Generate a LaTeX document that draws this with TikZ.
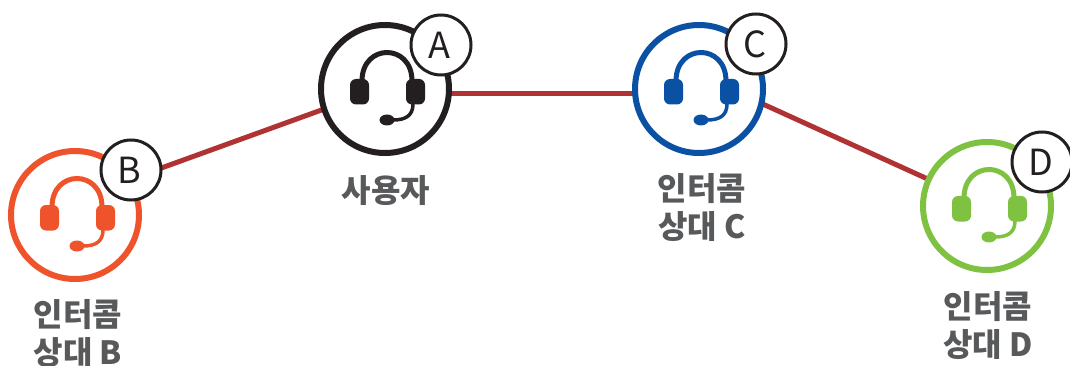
\documentclass[tikz,border=0pt]{standalone}
\usepackage{fontspec}
\setmainfont{Noto Sans CJK KR}
\usetikzlibrary{backgrounds}
\definecolor{linkred}{HTML}{B03232}
\definecolor{labelgray}{HTML}{58595B}
\definecolor{userblack}{HTML}{231F20}
\definecolor{peerorange}{HTML}{EE532B}
\definecolor{peerblue}{HTML}{0B51A3}
\definecolor{peergreen}{HTML}{7FC242}
\tikzset{
	x = 1pt, y = -1pt,
	ring/.style = {circle, draw = #1, fill = white, line width = 6pt, minimum size = 128pt, inner sep = 0pt},
	badge/.style = {circle, draw = userblack, fill = white, line width = 3pt, minimum size = 60pt, inner sep = 0pt, font = \fontsize{36}{36}\selectfont, text = userblack, execute at end node = \kern3pt},
	peerlabel/.style = {align = center, text = labelgray, font = \fontsize{32}{38}\selectfont\bfseries},
	link/.style = {linkred, line width = 5pt},
	headset/.pic = {
		\fill[rounded corners = 6pt] (-35,-10) rectangle (-16,15.5);
		\fill[rounded corners = 6pt] (21,-10) rectangle (40,15.5);
		\draw[line width = 5pt] (-23,-8) .. controls (-23,-46) and (27,-46) .. (27,-8);
		\draw[line width = 3.5pt] (28,15) .. controls (28,27) and (20,31) .. (8,31);
		\fill (2,31) ellipse (7.5 and 5.5);
	}
}
\begin{document}
\begin{tikzpicture}
	\useasboundingbox (0,0) rectangle (1070,366);

	\node[ring = userblack] (ringA) at (385,89) {};
	\node[ring = peerorange] (ringB) at (75,215) {};
	\node[ring = peerblue] (ringC) at (699,89) {};
	\node[ring = peergreen] (ringD) at (987,206) {};

	\pic[userblack] at (ringA) {headset};
	\pic[peerorange] at (ringB) {headset};
	\pic[peerblue] at (ringC) {headset};
	\pic[peergreen] at (ringD) {headset};

	\node[badge] (badgeA) at (441,45) {A};
	\node[badge] (badgeB) at (131,170) {B};
	\node[badge] (badgeC) at (756,44) {C};
	\node[badge] (badgeD) at (1042,162) {D};

	\begin{scope}[on background layer]
		\path[link] ([yshift = -9pt]badgeB.center) edge ([yshift = 2pt]ringA.center);
		\path[link] ([yshift = -5pt]ringA.center) edge ([yshift = -5pt]ringC.center);
		\path[link] ([yshift = 14pt]ringC.center) edge (ringD.center);
	\end{scope}

	\node[peerlabel] (labelA) at (386,191) {사용자};
	\node[peerlabel] (labelB) at (78,334) {인터콤\\상대 B};
	\node[peerlabel] (labelC) at (702,208) {인터콤\\상대 C};
	\node[peerlabel] (labelD) at (988,326) {인터콤\\상대 D};
\end{tikzpicture}
\end{document}
